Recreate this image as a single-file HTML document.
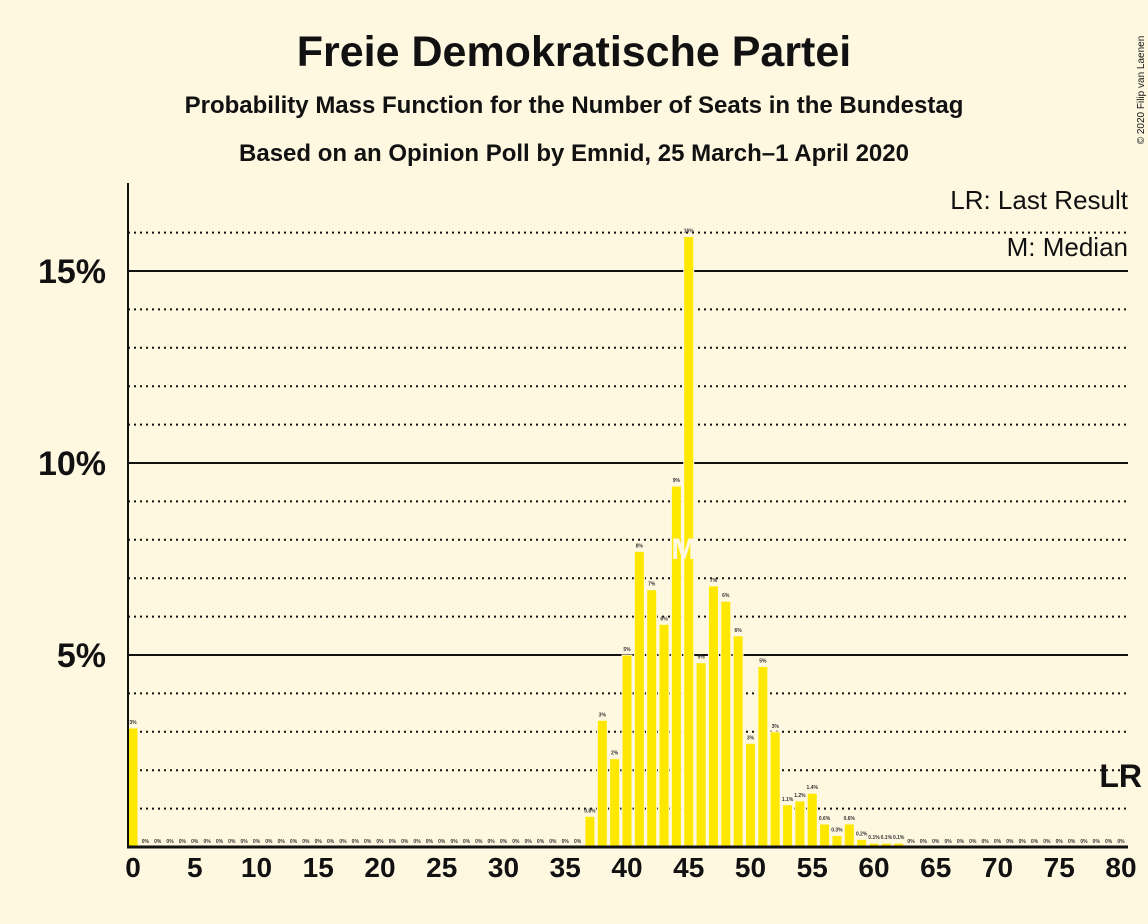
<!DOCTYPE html>
<html><head><meta charset="utf-8"><style>
body{margin:0;background:#fff8e1;}
svg{display:block;font-family:"Liberation Sans",sans-serif;}
</style></head><body>
<svg id="c" width="1148" height="924" viewBox="0 0 1148 924">
<rect width="1148" height="924" fill="#fff8e1"/>
<text x="574" y="66" text-anchor="middle" font-size="43" font-weight="bold" fill="#111">Freie Demokratische Partei</text>
<text x="574" y="113" text-anchor="middle" font-size="24" font-weight="bold" fill="#111">Probability Mass Function for the Number of Seats in the Bundestag</text>
<text x="574" y="161" text-anchor="middle" font-size="24" font-weight="bold" fill="#111">Based on an Opinion Poll by Emnid, 25 March–1 April 2020</text>
<text transform="translate(1144,90) rotate(-90)" text-anchor="middle" font-size="10" fill="#111">© 2020 Filip van Laenen</text>
<g id="grid"></g><g id="bars"></g><g id="axes"></g>
<text x="1128" y="209" text-anchor="end" font-size="26" fill="#111">LR: Last Result</text>
<text x="1128" y="256" text-anchor="end" font-size="26" fill="#111">M: Median</text>
</svg>
<script>
const seats=[];for(let i=0;i<=80;i++)seats.push(i);
const probs=[3.1,0,0,0,0,0,0,0,0,0,0,0,0,0,0,0,0,0,0,0,0,0,0,0,0,0,0,0,0,0,0,0,0,0,0,0,0,0.8,3.3,2.3,5.0,7.7,6.7,5.8,9.4,15.9,4.8,6.8,6.4,5.5,2.7,4.7,3.0,1.1,1.2,1.4,0.6,0.3,0.6,0.2,0.1,0.1,0.1,0,0,0,0,0,0,0,0,0,0,0,0,0,0,0,0,0,0];
const yTicks=[5,10,15];
const xTicks=[0,5,10,15,20,25,30,35,40,45,50,55,60,65,70,75,80];
const median=45, lastResult=80;
const NS="http://www.w3.org/2000/svg";
const X=s=>133+s*12.35, Y=v=>847-v*38.4;
function mk(tag,attrs,parent,txt){const e=document.createElementNS(NS,tag);for(const k in attrs)e.setAttribute(k,attrs[k]);if(txt!==undefined)e.textContent=txt;parent.appendChild(e);return e;}
const grid=document.getElementById('grid'),bars=document.getElementById('bars'),axes=document.getElementById('axes');
for(let v=1;v<=16;v++){
  const solid=yTicks.includes(v);
  const l=mk('line',{x1:128,x2:1128,y1:Y(v),y2:Y(v),stroke:'#111','stroke-width':2,'stroke-dasharray':solid?'none':'2,4'},grid);
  
  
}
yTicks.forEach(v=>{
  const t=mk('text',{x:106,y:Y(v)+12,'text-anchor':'end','font-size':34,'font-weight':'bold',fill:'#111'},axes,v+'%');
  
  
});
seats.forEach((s,i)=>{
  const p=probs[i];
  if(p>0){
    const r=mk('rect',{x:X(s)-5,y:Y(p),width:10,height:847-Y(p),fill:'#ffe800',stroke:'#fff8e1','stroke-width':1},bars);
    
    
  }
  const lab=p>=2?Math.round(p)+'%':(p>0?p.toFixed(1)+'%':'0%');
  const t=mk('text',{x:X(s),y:Y(p)-4,'text-anchor':'middle','font-size':5,'font-weight':'bold',fill:'#333'},bars,lab);
  
  
});
const m=mk('text',{x:X(median)-5,y:Y(7.6)+4,'text-anchor':'middle','font-size':30,'font-weight':'bold',fill:'#fff8e1'},bars,'M');


const lr=mk('text',{x:1142,y:787,'text-anchor':'end','font-size':32,'font-weight':'bold',fill:'#111'},bars,'LR');


const ya=mk('line',{x1:128,x2:128,y1:183,y2:848,stroke:'#111','stroke-width':2},axes);


const xa=mk('line',{x1:127,x2:1128,y1:847,y2:847,stroke:'#111','stroke-width':3},axes);


xTicks.forEach(s=>{
  const t=mk('text',{x:X(s),y:877,'text-anchor':'middle','font-size':28,'font-weight':'bold',fill:'#111'},axes,s);
  
  
});
</script>
</body></html>
